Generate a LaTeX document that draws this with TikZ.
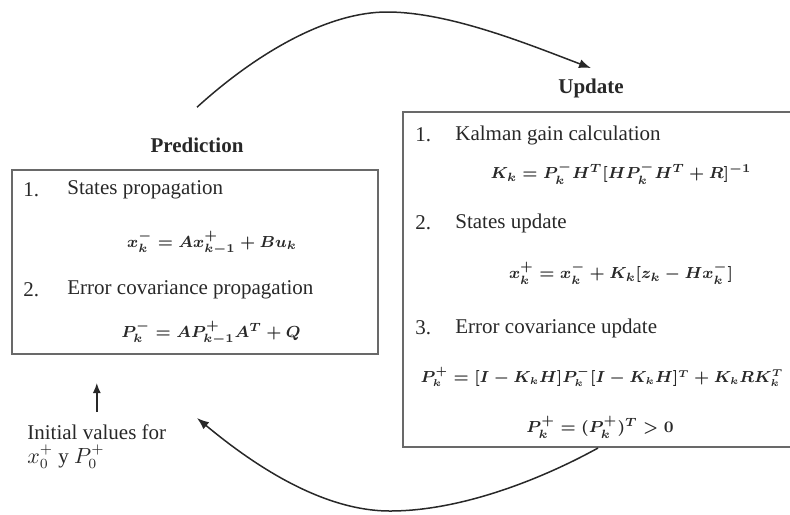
\documentclass[tikz,border=0pt]{standalone}
\usepackage{amsmath,amssymb}
\usepackage{fontspec}
\setmainfont{Liberation Serif}
\usetikzlibrary{arrows.meta,positioning,calc}
\definecolor{boxgray}{RGB}{105,105,105}
\definecolor{inkgray}{RGB}{40,40,40}
\tikzset{
  stagebox/.style={draw=boxgray, line width=1pt, inner sep=0pt},
  stagelbl/.style={font=\fontsize{10.5}{12}\selectfont\bfseries, text=inkgray, inner sep=0pt},
  stepno/.style={anchor=west, font=\fontsize{10.5}{12}\selectfont, text=inkgray, inner sep=0pt},
  steptxt/.style={anchor=west, font=\fontsize{10.5}{12}\selectfont, text=inkgray, inner sep=0pt},
  eqn/.style={font=\fontsize{8.4}{10}\selectfont\boldmath, text=inkgray, inner sep=0pt},
  looparr/.style={-{Latex[length=6pt,width=4.5pt]}, inkgray, line width=0.75pt},
  initarr/.style={-{Latex[length=5pt,width=4pt]}, inkgray, line width=0.75pt},
}

\begin{document}
\begin{tikzpicture}[x=0.5pt, y=-0.5pt]
  \clip (0,0) rectangle (790,514);
  % prediction stage
  \node[stagelbl] (predlbl) at (197,145) {Prediction};
  \node[stagebox, minimum width=183pt, minimum height=92pt] (predbox) at (195,262) {};
  \node[stepno] (pn1) at (23,190) {1.};
  \node[steptxt] (pt1) at (67,190) {States propagation};
  \node[eqn] (peq1) at (212,243) {$x_k^- = A x_{k-1}^+ + B u_k$};
  \node[stepno] (pn2) at (23,290) {2.};
  \node[steptxt] (pt2) at (67,290) {Error covariance propagation};
  \node[eqn] (peq2) at (211,333) {$P_k^- = A P_{k-1}^+ A^T + Q$};
  % update stage
  \node[stagelbl] (updlbl) at (591,88) {Update};
  \node[stagebox, minimum width=195pt, minimum height=167.5pt] (updbox) at (598,279.5) {};
  \node[stepno] (un1) at (415,135) {1.};
  \node[steptxt] (ut1) at (455,135) {Kalman gain calculation};
  \node[eqn] (ueq1) at (621,173) {$K_k = P_k^- H^T [H P_k^- H^T + R]^{-1}$};
  \node[stepno] (un2) at (415,223) {2.};
  \node[steptxt] (ut2) at (455,223) {States update};
  \node[eqn] (ueq2) at (621,273) {$x_k^+ = x_k^- + K_k[z_k - H x_k^-]$};
  \node[stepno] (un3) at (415,328) {3.};
  \node[steptxt] (ut3) at (455,328) {Error covariance update};
  \node[eqn, font=\fontsize{7.7}{10}\selectfont\boldmath] (ueq3) at (602,377)
    {$P_k^+ = [I - K_k H] P_k^- [I - K_k H]^T + K_k R K_k^T$};
  \node[eqn] (ueq4) at (600,427) {$P_k^+ = (P_k^+)^T > 0$};
  % initial values
  \node[steptxt, anchor=north west, align=left, font=\fontsize{10.5}{12}\selectfont] (initlbl) at (27,424)
    {Initial values for\\$x_0^+$ y $P_0^+$};
  \coordinate[above=20.5pt of initlbl.north] (inittip);
  \draw[initarr, shorten <=6pt] (initlbl.north) -- (inittip);
  % loop arrows
  \coordinate[above=15pt of predlbl] (predtop);
  \coordinate[above=5pt of updlbl] (updtop);
  \coordinate (backtip) at (197,418);
  \draw[looparr] (predtop) .. controls (260,50) and (330,12) .. (387,12)
    .. controls (450,12) and (530,45) .. (updtop);
  \draw[looparr] (updbox.south) .. controls (540,480) and (460,511) .. (390,511)
    .. controls (320,511) and (250,462) .. (backtip);
\end{tikzpicture}
\end{document}
